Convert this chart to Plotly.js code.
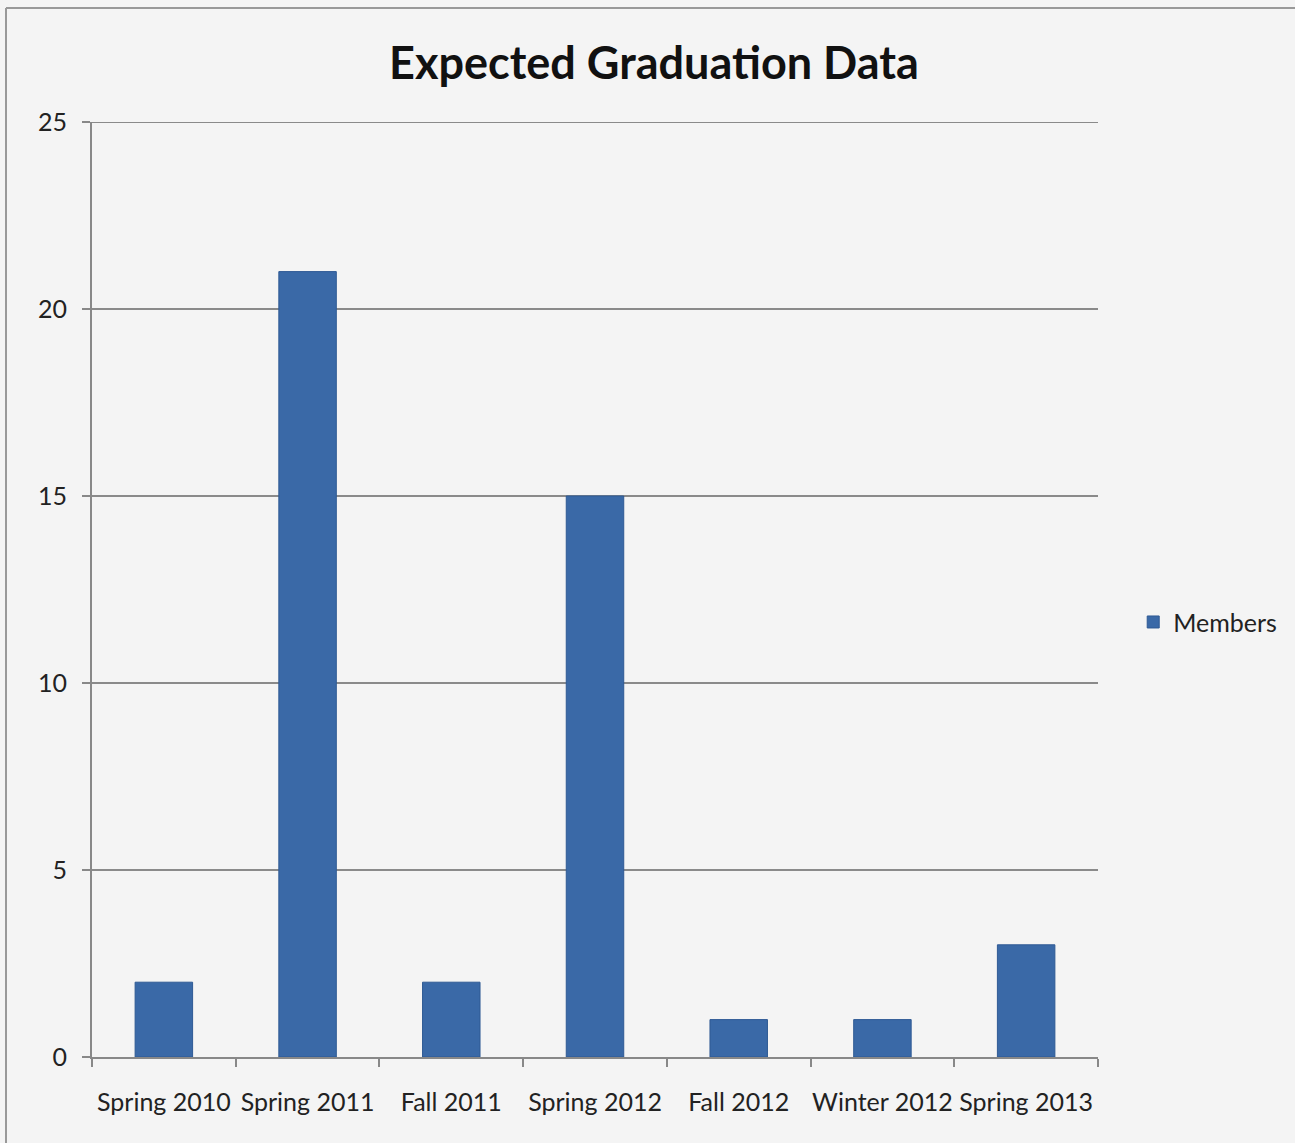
<!DOCTYPE html>
<html>
<head>
<meta charset="utf-8">
<script src="https://cdn.plot.ly/plotly-3.0.1.min.js"></script>
<style>
html,body{margin:0;padding:0;background:#f4f4f4;}
#chart{width:1295px;height:1143px;}
</style>
</head>
<body>
<div id="chart"></div>
<script>
const categories = ["Spring 2010","Spring 2011","Fall 2011","Spring 2012","Fall 2012","Winter 2012","Spring 2013"];
const members = [2, 21, 2, 15, 1, 1, 3];
const yTicks = [0, 5, 10, 15, 20, 25];

const W = 1295, H = 1143;
const m = {l: 92, r: 197, t: 122, b: 86};
const pw = W - m.l - m.r, ph = H - m.t - m.b;

const trace = {
  type: 'bar',
  x: categories,
  y: members,
  name: 'Members',
  marker: {color: '#3a69a7', line: {color: '#2f5a94', width: 1}},
  showlegend: true
};

const layout = {
  width: W, height: H,
  margin: m,
  paper_bgcolor: '#f4f4f4',
  plot_bgcolor: '#f4f4f4',
  font: {family: 'Lato, Open Sans, sans-serif', color: '#222', size: 24},
  title: {text: '<b>Expected Graduation Data</b>', x: 0.505, xanchor: 'center', y: 0.945, yanchor: 'middle',
          font: {family: 'Lato, Open Sans, sans-serif', size: 45, color: '#111'}},
  bargap: 0.6,
  xaxis: {
    type: 'category',
    showline: true, linecolor: '#888', linewidth: 2,
    ticks: 'outside', tickson: 'boundaries', ticklen: 8, tickcolor: '#888', tickwidth: 2,
    ticklabelstandoff: 22,
    tickangle: 0,
    showgrid: false,
    tickfont: {size: 25, color: '#222'},
    automargin: false
  },
  yaxis: {
    range: [0, 25],
    tickvals: yTicks,
    showline: true, linecolor: '#888', linewidth: 2,
    ticks: 'outside', ticklen: 8, tickcolor: '#888', tickwidth: 2,
    ticklabelstandoff: 10,
    gridcolor: '#8a8a8a', gridwidth: 2,
    zeroline: false,
    tickfont: {size: 25, color: '#222'},
    automargin: false
  },
  legend: {
    x: 1.035, xanchor: 'left', y: 0.465, yanchor: 'middle',
    bgcolor: 'rgba(0,0,0,0)',
    font: {size: 25, color: '#222'},
    itemwidth: 20
  },
  shapes: [
    {type: 'line', xref: 'paper', yref: 'y', x0: 0, x1: 1, y0: 25, y1: 25,
     line: {color: '#8a8a8a', width: 2}},
    {type: 'line', xref: 'paper', yref: 'paper',
     x0: (6 - m.l)/pw, x1: (6 - m.l)/pw, y0: (H - m.b - 8)/ph, y1: -0.2,
     line: {color: '#999', width: 2}},
    {type: 'line', xref: 'paper', yref: 'paper',
     x0: (6 - m.l)/pw, x1: 1.3, y0: (H - m.b - 8)/ph, y1: (H - m.b - 8)/ph,
     line: {color: '#999', width: 2}}
  ]
};

Plotly.newPlot('chart', [trace], layout, {displayModeBar: false, staticPlot: true});
</script>
</body>
</html>
